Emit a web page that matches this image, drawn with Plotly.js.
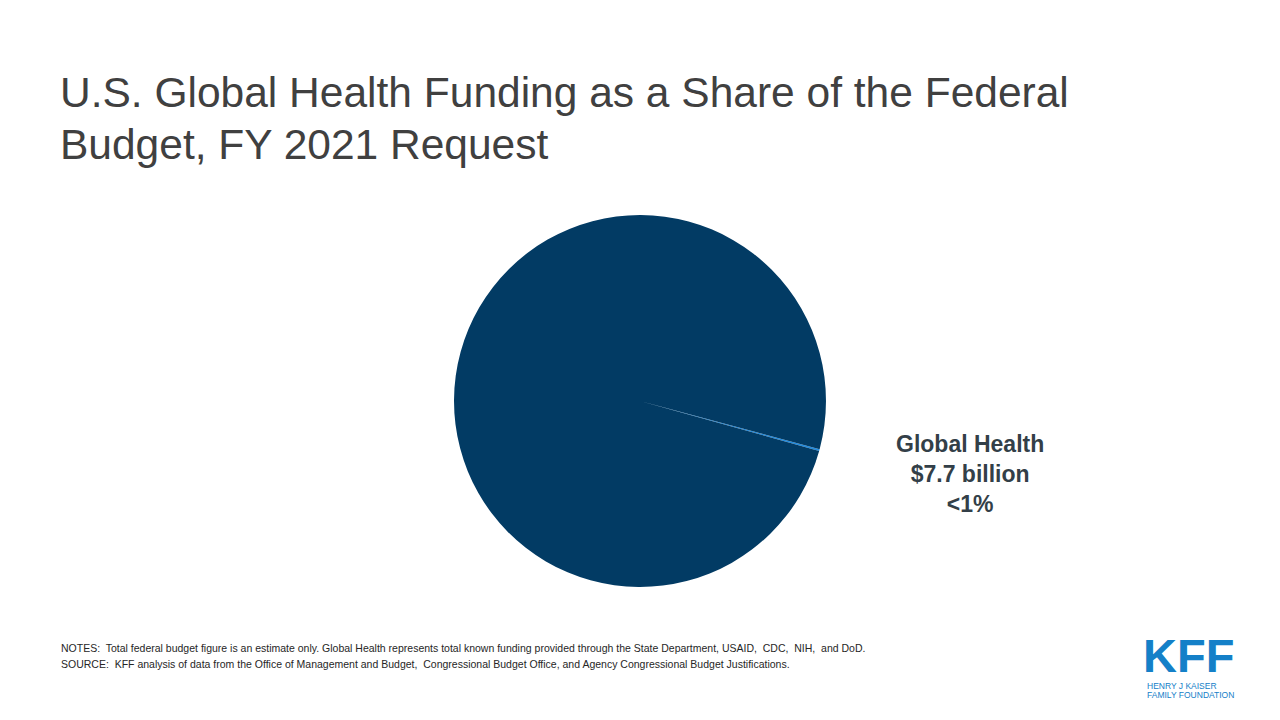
<!DOCTYPE html>
<html><head><meta charset="utf-8">
<script src="https://cdn.plot.ly/plotly-3.0.1.min.js"></script>
<style>html,body{margin:0;padding:0;background:#fff;}#chart{width:1280px;height:720px;}</style>
</head><body><div id="chart"></div>
<script>
const categories = ["Global Health", "Rest of Federal Budget"];
const valuesBillions = [7.7, 4821.3];
const sliceColors = ["#1F8BE0", "#023B64"];
const labelLines = ["Global Health", "$7.7 billion", "<1%"];
const titleLines = ["U.S. Global Health Funding as a Share of the Federal", "Budget, FY 2021 Request"];
const noteLines = [
  "NOTES:  Total federal budget figure is an estimate only. Global Health represents total known funding provided through the State Department, USAID,  CDC,  NIH,  and DoD.",
  "SOURCE:  KFF analysis of data from the Office of Management and Budget,  Congressional Budget Office, and Agency Congressional Budget Justifications."
];

const trace = {
  type: "pie",
  labels: categories,
  values: valuesBillions,
  sort: false,
  direction: "clockwise",
  rotation: 105,
  marker: {colors: sliceColors, line: {width: 0}},
  textinfo: "none",
  hoverinfo: "label+value",
  showlegend: false,
  domain: {x: [0.3547, 0.6453], y: [0.1847, 0.7014]}
};

function ann(text, px, py, opts) {
  return Object.assign({text: text, x: px/1280, y: 1 - py/720, xref: "paper", yref: "paper",
    showarrow: false}, opts);
}

const layout = {
  width: 1280, height: 720,
  margin: {l: 0, r: 0, t: 0, b: 0},
  paper_bgcolor: "#ffffff",
  showlegend: false,
  annotations: [
    ann(titleLines[0], 58, 93, {xanchor: "left", yanchor: "middle",
      font: {family: "Liberation Sans, Arial, sans-serif", size: 42.5, color: "#404040"}}),
    ann(titleLines[1], 58, 145, {xanchor: "left", yanchor: "middle",
      font: {family: "Liberation Sans, Arial, sans-serif", size: 42.5, color: "#404040"}}),
    ann("<b>" + labelLines.join("<br>") + "</b>", 970, 474, {xanchor: "center", yanchor: "middle", align: "center",
      font: {family: "Liberation Sans, Arial, sans-serif", size: 23, color: "#333F48"}}),
    ann(noteLines[0], 59, 648, {xanchor: "left", yanchor: "middle",
      font: {family: "Liberation Sans Narrow, Arial Narrow, sans-serif", size: 10.5, color: "#262626"}}),
    ann(noteLines[1], 59, 664, {xanchor: "left", yanchor: "middle",
      font: {family: "Liberation Sans Narrow, Arial Narrow, sans-serif", size: 10.5, color: "#262626"}}),
    ann("<b>KFF</b>", 1188, 655, {xanchor: "center", yanchor: "middle",
      font: {family: "Liberation Sans, Arial, sans-serif", size: 47, color: "#1480C8"}}),
    ann("HENRY J KAISER", 1145, 686, {xanchor: "left", yanchor: "middle",
      font: {family: "Liberation Sans, Arial, sans-serif", size: 8.5, color: "#1480C8"}}),
    ann("FAMILY FOUNDATION", 1145, 695, {xanchor: "left", yanchor: "middle",
      font: {family: "Liberation Sans, Arial, sans-serif", size: 8.5, color: "#1480C8"}})
  ]
};

Plotly.newPlot("chart", [trace], layout, {displayModeBar: false, staticPlot: true});
</script>
</body></html>
